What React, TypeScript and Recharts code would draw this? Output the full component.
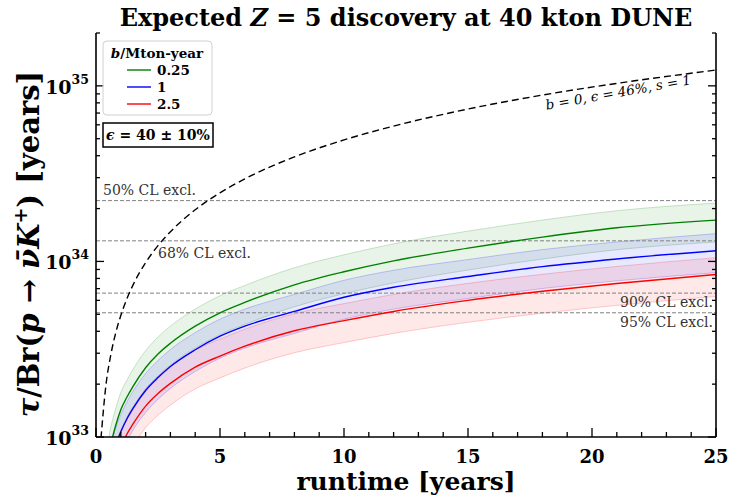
import {
  Area,
  ComposedChart,
  Line,
  ReferenceLine,
  XAxis,
  YAxis,
} from 'recharts';

// runtime in years, lifetimes in units of 1e33 years
const runtime = [0.2, 0.4, 0.6, 0.8, 1, 1.25, 1.5, 2, 2.5, 3, 4, 5, 6, 8, 10, 12, 15, 18, 21, 25];

const noBackground = [0.98, 1.97, 2.95, 3.94, 4.92, 6.15, 7.38, 9.84, 12.3, 14.76, 19.68, 24.6, 29.5, 39.4, 49.2, 59.0, 73.8, 88.6, 103.3, 123];

const green = [0.35, 0.64, 0.91, 1.17, 1.43, 1.69, 1.95, 2.48, 2.97, 3.42, 4.28, 5.1, 5.84, 7.36, 8.73, 10.07, 11.9, 13.76, 15.55, 17.2];
const greenHigh = [0.44, 0.8, 1.14, 1.46, 1.79, 2.11, 2.44, 3.1, 3.71, 4.28, 5.35, 6.38, 7.3, 9.2, 10.91, 12.59, 14.88, 17.2, 19.44, 21.5];
const greenLow = [0.26, 0.48, 0.68, 0.88, 1.07, 1.27, 1.46, 1.86, 2.23, 2.57, 3.21, 3.83, 4.38, 5.52, 6.55, 7.55, 8.93, 10.32, 11.66, 12.9];

const blue = [0.29, 0.52, 0.72, 0.9, 1.07, 1.27, 1.46, 1.84, 2.18, 2.52, 3.14, 3.75, 4.28, 5.19, 6.25, 7.13, 8.2, 9.34, 10.33, 11.5];
const blueHigh = [0.36, 0.65, 0.9, 1.13, 1.34, 1.59, 1.83, 2.3, 2.73, 3.15, 3.93, 4.69, 5.35, 6.49, 7.81, 8.91, 10.25, 11.68, 12.91, 14.4];
const blueLow = [0.22, 0.39, 0.54, 0.68, 0.8, 0.95, 1.1, 1.38, 1.64, 1.89, 2.36, 2.81, 3.21, 3.89, 4.69, 5.35, 6.15, 7.01, 7.75, 8.63];

const red = [0.25, 0.43, 0.58, 0.74, 0.87, 1.04, 1.19, 1.5, 1.77, 2.02, 2.5, 2.89, 3.29, 4.03, 4.6, 5.19, 6.0, 6.76, 7.49, 8.43];
const redHigh = [0.31, 0.54, 0.73, 0.93, 1.09, 1.3, 1.49, 1.88, 2.21, 2.53, 3.13, 3.61, 4.11, 5.04, 5.75, 6.49, 7.5, 8.45, 9.36, 10.5];
const redLow = [0.19, 0.32, 0.44, 0.56, 0.65, 0.78, 0.89, 1.13, 1.33, 1.52, 1.88, 2.17, 2.47, 3.02, 3.45, 3.89, 4.5, 5.07, 5.62, 6.32];

const clLimits = [22.2, 13.1, 6.6, 5.1];
const clNames = ['50% CL excl.', '68% CL excl.', '90% CL excl.', '95% CL excl.'];

const backgroundRates = ['0.25', '1', '2.5'];

const xTicks = Array.from({ length: 26 }, (_, i) => i);
const yTicks = [1, 2, 3, 4, 5, 6, 7, 8, 9, 10, 20, 30, 40, 50, 60, 70, 80, 90, 100, 200];
const yMajor = [1, 10, 100];

const data = runtime.map((t, i) => ({
  t,
  b0: noBackground[i],
  g: green[i],
  gBand: [greenLow[i], greenHigh[i]],
  b: blue[i],
  bBand: [blueLow[i], blueHigh[i]],
  r: red[i],
  rBand: [redLow[i], redHigh[i]],
}));

const SERIF = '"DejaVu Serif", serif';
const colors = ['#008000', '#0000ff', '#ff0000'];

function BottomTick({ x, y, payload }: any) {
  const major = payload.value % 5 === 0;
  return (
    <g>
      <line x1={x} x2={x} y1={y} y2={y - (major ? 9 : 5)} stroke="#000" strokeWidth={1.3} />
      {major && (
        <text x={x} y={y + 26} textAnchor="middle" fontFamily={SERIF} fontWeight="bold" fontSize={18} fill="#000">
          {payload.value}
        </text>
      )}
    </g>
  );
}

function TopTick({ x, y, payload }: any) {
  const major = payload.value % 5 === 0;
  return <line x1={x} x2={x} y1={y} y2={y + (major ? 9 : 5)} stroke="#000" strokeWidth={1.3} />;
}

function LeftTick({ x, y, payload }: any) {
  const major = yMajor.includes(payload.value);
  return (
    <g>
      <line x1={x} x2={x + (major ? 8 : 4)} y1={y} y2={y} stroke="#000" strokeWidth={1.3} />
      {major && (
        <text x={x - 7} y={y + 8} textAnchor="end" fontFamily={SERIF} fontWeight="bold" fontSize={19} fill="#000">
          10
          <tspan dy={-10} fontSize={12.5}>
            {33 + Math.round(Math.log10(payload.value))}
          </tspan>
        </text>
      )}
    </g>
  );
}

function RightTick({ x, y, payload }: any) {
  const major = yMajor.includes(payload.value);
  return <line x1={x} x2={x - (major ? 8 : 4)} y1={y} y2={y} stroke="#000" strokeWidth={1.3} />;
}

function clLabel(i: number) {
  return ({ viewBox }: any) => {
    const { x, y, width } = viewBox;
    const style = { fontFamily: SERIF, fontSize: 14, fill: '#333' };
    if (i === 0) return <text x={x + 7} y={y - 6} {...style}>{clNames[i]}</text>;
    if (i === 1) return <text x={x + 62} y={y + 17} {...style}>{clNames[i]}</text>;
    return (
      <text x={x + width - 3} y={y + 14} textAnchor="end" {...style}>
        {clNames[i]}
      </text>
    );
  };
}

export default function App() {
  return (
    <div style={{ position: 'absolute', left: 0, top: 0, width: 732, height: 500, background: '#fff' }}>
      <ComposedChart width={732} height={500} data={data} margin={{ top: 33, right: 15, bottom: 33, left: 0 }}>
        <XAxis
          xAxisId="main"
          dataKey="t"
          type="number"
          domain={[0, 25]}
          ticks={xTicks}
          interval={0}
          allowDataOverflow
          height={30}
          tickSize={0}
          tickMargin={0}
          tick={(p: any) => <BottomTick {...p} />}
          axisLine={{ stroke: '#000', strokeWidth: 1.6 }}
        />
        <XAxis
          xAxisId="top"
          orientation="top"
          dataKey="t"
          type="number"
          domain={[0, 25]}
          ticks={xTicks}
          interval={0}
          height={0}
          tickSize={0}
          tickMargin={0}
          tick={(p: any) => <TopTick {...p} />}
          axisLine={{ stroke: '#000', strokeWidth: 1.6 }}
        />
        <YAxis
          yAxisId="main"
          type="number"
          scale="log"
          domain={[1, 200]}
          ticks={yTicks}
          interval={0}
          allowDataOverflow
          width={96}
          tickSize={0}
          tickMargin={0}
          tick={(p: any) => <LeftTick {...p} />}
          axisLine={{ stroke: '#000', strokeWidth: 1.6 }}
        />
        <YAxis
          yAxisId="right"
          orientation="right"
          type="number"
          scale="log"
          domain={[1, 200]}
          ticks={yTicks}
          interval={0}
          allowDataOverflow
          width={1}
          tickSize={0}
          tickMargin={0}
          tick={(p: any) => <RightTick {...p} />}
          axisLine={{ stroke: '#000', strokeWidth: 1.6 }}
        />

        {['gBand', 'bBand', 'rBand'].map((key, i) => (
          <Area
            key={key}
            xAxisId="main"
            yAxisId="main"
            dataKey={key}
            type="monotone"
            fill={colors[i]}
            fillOpacity={0.09}
            stroke={colors[i]}
            strokeOpacity={0.2}
            strokeWidth={1}
            isAnimationActive={false}
          />
        ))}

        {clLimits.map((v, i) => (
          <ReferenceLine
            key={v}
            xAxisId="main"
            yAxisId="main"
            y={v}
            stroke="#808080"
            strokeDasharray="4 2"
            strokeWidth={1}
            label={clLabel(i)}
          />
        ))}

        <Line
          xAxisId="main"
          yAxisId="main"
          dataKey="b0"
          type="monotone"
          stroke="#000"
          strokeWidth={1.4}
          strokeDasharray="7 4"
          dot={false}
          isAnimationActive={false}
        />
        {['g', 'b', 'r'].map((key, i) => (
          <Line
            key={key}
            xAxisId="main"
            yAxisId="main"
            dataKey={key}
            type="monotone"
            stroke={colors[i]}
            strokeWidth={1.4}
            dot={false}
            isAnimationActive={false}
          />
        ))}
      </ComposedChart>

      <svg width={732} height={500} style={{ position: 'absolute', left: 0, top: 0, pointerEvents: 'none' }}>
        <text x={406} y={26} textAnchor="middle" fontFamily={SERIF} fontWeight="bold" fontSize={24}>
          Expected <tspan fontStyle="italic">Z</tspan> = 5 discovery at 40 kton DUNE
        </text>
        <text x={406} y={490} textAnchor="middle" fontFamily={SERIF} fontWeight="bold" fontSize={25}>
          runtime [years]
        </text>
        <text transform="translate(39,244) rotate(-90)" textAnchor="middle" fontFamily={SERIF} fontWeight="bold" fontSize={29}>
          <tspan fontStyle="italic">τ</tspan>/Br(<tspan fontStyle="italic">p</tspan> → <tspan fontStyle="italic">ν̄K</tspan>
          <tspan dy={-12} fontSize={19}>+</tspan>
          <tspan dy={12}>) [years]</tspan>
        </text>
        <text transform="translate(619,97) rotate(-10)" textAnchor="middle" fontFamily={SERIF} fontStyle="italic" fontSize={13.5}>
          b = 0, ϵ = 46%, s = 1
        </text>

        <rect x={103} y={41} width={109} height={74} rx={4} fill="#fff" fillOpacity={0.8} stroke="#d0d0d0" strokeWidth={1} />
        <text x={157} y={58} textAnchor="middle" fontFamily={SERIF} fontWeight="bold" fontSize={13.5}>
          <tspan fontStyle="italic">b</tspan>/Mton-year
        </text>
        {backgroundRates.map((label, i) => (
          <g key={label}>
            <line x1={127} x2={151} y1={70 + i * 17} y2={70 + i * 17} stroke={colors[i]} strokeWidth={1.4} />
            <text x={157} y={75 + i * 17} fontFamily={SERIF} fontWeight="bold" fontSize={13.5}>
              {label}
            </text>
          </g>
        ))}

        <rect x={103} y={123} width={110} height={24} fill="#fff" stroke="#000" strokeWidth={1.5} />
        <text x={158} y={140} textAnchor="middle" fontFamily={SERIF} fontWeight="bold" fontSize={14}>
          <tspan fontStyle="italic">ϵ</tspan> = 40 ± 10%
        </text>
      </svg>
    </div>
  );
}
